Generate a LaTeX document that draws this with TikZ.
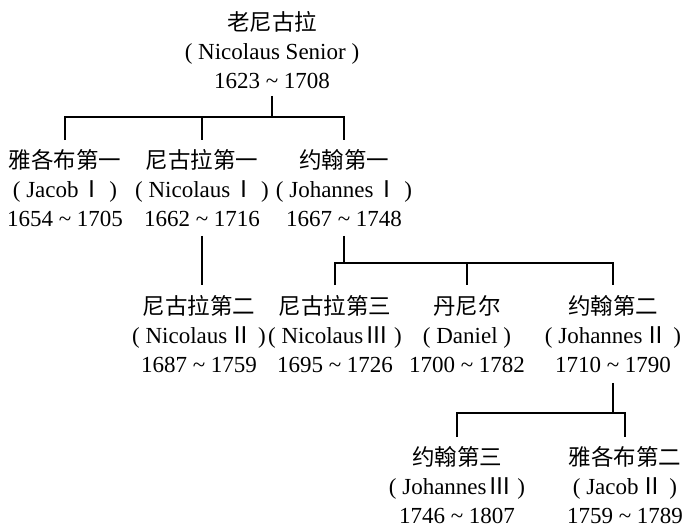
\documentclass[tikz,border=0pt]{standalone}
\usepackage{fontspec}
\setmainfont{Liberation Serif}
\newfontfamily\cjk{Noto Sans CJK SC}
\newcommand\zh[1]{{\cjk\fontsize{22.5}{29}\selectfont #1}}
\newcommand\rn[1]{\kern2pt{\cjk #1}}
\newcommand\pp[1]{( #1 )}
\newcommand\yr[2]{#1 \textasciitilde{} #2}
\begin{document}
\begin{tikzpicture}[x=1pt,y=-1pt,
  person/.style={align=center, inner sep=0pt, font=\fontsize{23}{29}\selectfont},
  link/.style={line width=1.3pt}]
\useasboundingbox[fill=white] (0,0) rectangle (682,525);
% people
\node[person] (ns)   at (272,50)  {\zh{老尼古拉}\\\pp{Nicolaus Senior}\\\yr{1623}{1708}};
\node[person] (jac1) at (65,188)  {\zh{雅各布第一}\\\pp{Jacob\rn{Ⅰ}}\\\yr{1654}{1705}};
\node[person] (nic1) at (202,188) {\zh{尼古拉第一}\\\pp{Nicolaus\rn{Ⅰ}}\\\yr{1662}{1716}};
\node[person] (joh1) at (344,188) {\zh{约翰第一}\\\pp{Johannes\rn{Ⅰ}}\\\yr{1667}{1748}};
\node[person] (nic2) at (199,334) {\zh{尼古拉第二}\\\pp{Nicolaus\rn{Ⅱ}}\\\yr{1687}{1759}};
\node[person] (nic3) at (335,334) {\zh{尼古拉第三}\\\pp{Nicolaus\rn{Ⅲ}}\\\yr{1695}{1726}};
\node[person] (dan)  at (467,334) {\zh{丹尼尔}\\\pp{Daniel}\\\yr{1700}{1782}};
\node[person] (joh2) at (613,334) {\zh{约翰第二}\\\pp{Johannes\rn{Ⅱ}}\\\yr{1710}{1790}};
\node[person] (joh3) at (457,485) {\zh{约翰第三}\\\pp{Johannes\rn{Ⅲ}}\\\yr{1746}{1807}};
\node[person] (jac2) at (625,485) {\zh{雅各布第二}\\\pp{Jacob\rn{Ⅱ}}\\\yr{1759}{1789}};
% bars
\coordinate (bar1) at (0,117);
\coordinate (bar2) at (0,263);
\coordinate (bar3) at (0,413);
% connectors
\draw[link] ([yshift=-7pt]ns.south) -- (ns.south |- bar1);
\draw[link] ([yshift=9pt]jac1.north) -- (jac1.north |- bar1) -- (joh1.north |- bar1) -- ([yshift=9pt]joh1.north);
\draw[link] (nic1.north |- bar1) -- ([yshift=9pt]nic1.north);
\draw[link] ([yshift=-9pt]nic1.south) -- ([yshift=10pt]nic1.south |- nic2.north);
\draw[link] ([yshift=-9pt]joh1.south) -- (joh1.south |- bar2);
\draw[link] ([yshift=10pt]nic3.north) -- (nic3.north |- bar2) -- (joh2.north |- bar2) -- ([yshift=10pt]joh2.north);
\draw[link] (dan.north |- bar2) -- ([yshift=10pt]dan.north);
\draw[link] ([yshift=-10pt]joh2.south) -- (joh2.south |- bar3);
\draw[link] ([yshift=9pt]joh3.north) -- (joh3.north |- bar3) -- (jac2.north |- bar3) -- ([yshift=9pt]jac2.north);
\end{tikzpicture}
\end{document}
